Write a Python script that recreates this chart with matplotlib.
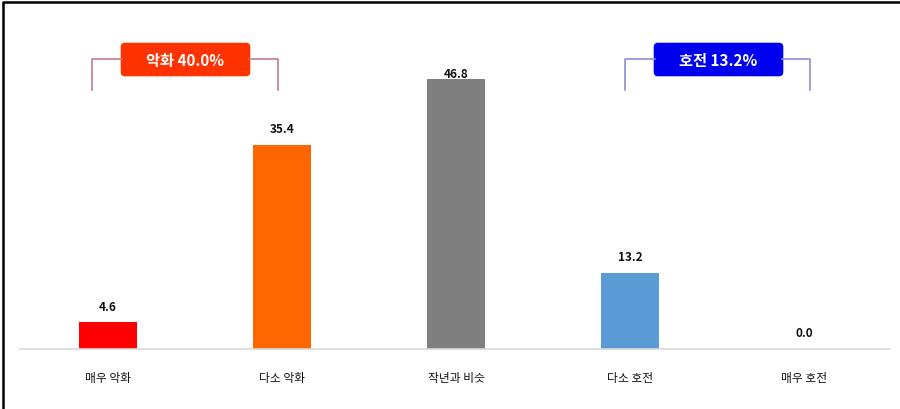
import matplotlib.pyplot as plt
from matplotlib.lines import Line2D
from matplotlib.patches import FancyBboxPatch

plt.rcParams['font.family'] = ['Noto Sans CJK KR', 'DejaVu Sans']

categories = ['매우 악화', '다소 악화', '작년과 비슷', '다소 호전', '매우 호전']
values = [4.6, 35.4, 46.8, 13.2, 0.0]
colors = ['#FF0000', '#FF6600', '#7F7F7F', '#5B9BD5', '#70AD47']

W, H = 900, 410
fig = plt.figure(figsize=(W / 100, H / 100), dpi=100)


def fx(px):
    return px / W


def fy(py):
    # py measured from the top of the image
    return 1 - py / H


# plot area: baseline at y=350px, bars centred at 108 + 174*i
ax = fig.add_axes([fx(20), fy(350), fx(870), 350 / H])
x = list(range(len(values)))
ax.bar(x, values, width=58 / 174, color=colors)
ax.set_xlim(-88 / 174, 4 + 86 / 174)
ax.set_ylim(0, 350 / 5.77)
ax.set_xticks(x)
ax.set_xticklabels(categories, fontsize=8.5, fontweight='medium', color='#111111')
ax.tick_params(axis='x', length=0, pad=16)
ax.set_yticks([])
for side in ['top', 'left', 'right']:
    ax.spines[side].set_visible(False)
ax.spines['bottom'].set_color('#D9D9D9')
ax.spines['bottom'].set_linewidth(1.2)
ax.patch.set_alpha(0)

for xi, v in zip(x, values):
    ax.annotate(f'{v:.1f}', (xi, min(v, 45.0)), xytext=(0, 7), textcoords='offset points',
                ha='center', va='bottom', fontsize=8.5, fontweight='bold', color='#111111')

# group brackets with summary boxes
groups = [
    (f'악화 {values[0] + values[1]:.1f}%', 92, 278, 122, 249, '#FF3300', '#C77A8C'),
    (f'호전 {values[3] + values[4]:.1f}%', 625, 810, 655, 782, '#0000EE', '#8E8EDB'),
]
for label, x0, x1, b0, b1, face, line_c in groups:
    fig.add_artist(Line2D([fx(x0), fx(x0), fx(b0)], [fy(91), fy(60), fy(60)],
                          color=line_c, lw=1.2))
    fig.add_artist(Line2D([fx(b1), fx(x1), fx(x1)], [fy(60), fy(60), fy(91)],
                          color=line_c, lw=1.2))
    box = FancyBboxPatch((fx(b0 + 3), fy(73)), fx(b1 - b0 - 6), 25 / H,
                         boxstyle='round,pad=0.004', transform=fig.transFigure,
                         facecolor=face, edgecolor=face, mutation_aspect=W / H)
    fig.add_artist(box)
    fig.text(fx((b0 + b1) / 2), fy(61), label, ha='center', va='center',
             fontsize=11, fontweight='bold', color='white')

# frame (only top and left edges visible in the crop)
fig.add_artist(Line2D([fx(2.5), fx(2.5), fx(W)], [0, fy(2.5), fy(2.5)], color='black', lw=1.8))

fig.savefig('out.png', dpi=100)
